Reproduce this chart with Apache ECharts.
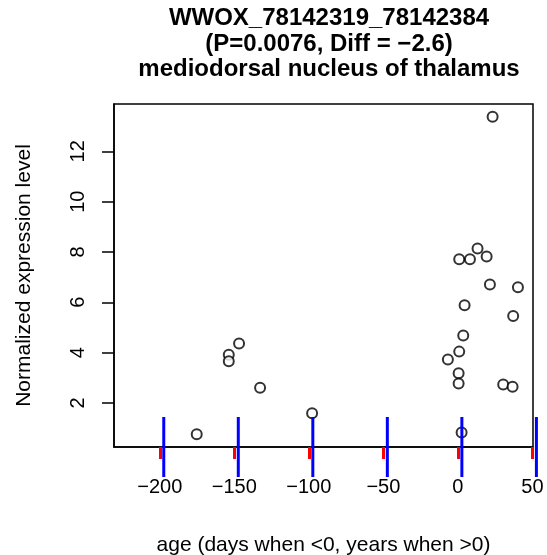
<!DOCTYPE html>
<html>
<head>
<meta charset="utf-8">
<script src="https://cdn.jsdelivr.net/npm/echarts@6/dist/echarts.min.js"></script>
<style>
  html, body { margin: 0; padding: 0; background: #fff; }
  #chart { width: 547px; height: 555px; }
</style>
</head>
<body>
<div id="chart"></div>
<script>
// ages (days when <0, years when >0)
const ages = [
  23.3, 0.9, 8.1, 13.2, 19.3, 21.5, 40.3, 4.5, 37.1, 3.6,
  -146.8, -153.7, -153.7, -132.7, -97.8, -175.2,
  0.9, -6.7, 0.5, 0.5, 30.4, 36.7, 2.5
];
// normalized expression level
const expr = [
  13.37, 7.71, 7.71, 8.14, 7.82, 6.71, 6.6, 5.88, 5.46, 4.68,
  4.36, 3.92, 3.66, 2.6, 1.59, 0.76,
  4.04, 3.73, 3.18, 2.77, 2.73, 2.64, 0.83
];
const xTicks = [-200, -150, -100, -50, 0, 50];
const yTicks = [2, 4, 6, 8, 10, 12];

const points = ages.map((a, i) => [a, expr[i]]);
const font = 'Liberation Sans, Arial, sans-serif';
const minus = v => String(v).replace('-', '\u2212');
const xMin = -230.7, xMax = 50.4;
const yMin = 0.25, yMax = 13.88;

const chart = echarts.init(document.getElementById('chart'));
chart.setOption({
  animation: false,
  backgroundColor: '#fff',
  title: {
    text: 'WWOX_78142319_78142384\n(P=0.0076, Diff = \u22122.6)\nmediodorsal nucleus of thalamus',
    left: 324,
    textAlign: 'center',
    top: 1,
    textStyle: {
      fontFamily: font, fontSize: 24, fontWeight: 'bold',
      color: '#000', lineHeight: 25.5
    }
  },
  grid: {
    left: 114, right: 14, top: 104, bottom: 108,
    outerBoundsMode: 'none',
    show: true, borderColor: '#000', borderWidth: 1.5,
    backgroundColor: 'transparent'
  },
  xAxis: {
    type: 'value',
    min: xMin, max: xMax,
    splitLine: { show: false },
    axisLine: { show: true, onZero: false, lineStyle: { color: '#000', width: 1.5 } },
    axisTick: {
      show: true, length: 12,
      customValues: xTicks,
      lineStyle: { color: 'red', width: 3 }
    },
    axisLabel: {
      customValues: xTicks,
      formatter: minus,
      margin: 30,
      fontFamily: font, fontSize: 20, color: '#000'
    },
    name: 'age (days when <0, years when >0)',
    nameLocation: 'middle',
    nameGap: 88,
    nameTextStyle: { fontFamily: font, fontSize: 21, color: '#000' }
  },
  yAxis: {
    type: 'value',
    min: yMin, max: yMax,
    splitLine: { show: false },
    axisLine: { show: true, onZero: false, lineStyle: { color: '#000', width: 1.5 } },
    axisTick: {
      show: true, length: 12,
      customValues: yTicks,
      lineStyle: { color: '#000', width: 1.5 }
    },
    axisLabel: {
      customValues: yTicks,
      rotate: 90,
      margin: 26,
      fontFamily: font, fontSize: 20, color: '#000'
    },
    name: 'Normalized expression level',
    nameLocation: 'middle',
    nameGap: 79,
    nameTextStyle: { fontFamily: font, fontSize: 21, color: '#000' }
  },
  series: [{
    type: 'scatter',
    data: points,
    symbol: 'emptyCircle',
    symbolSize: 10,
    itemStyle: { color: '#000', borderColor: '#000', borderWidth: 1.5 }
  }, {
    type: 'custom',
    silent: true,
    clip: false,
    z: 50,
    data: xTicks.map(v => [v, yMin]),
    renderItem: (params, api) => {
      const p = api.coord([api.value(0), api.value(1)]);
      return {
        type: 'line',
        shape: { x1: p[0] + 4, y1: p[1] - 30, x2: p[0] + 4, y2: p[1] + 30 },
        style: { stroke: 'blue', lineWidth: 3 }
      };
    }
  }]
});
</script>
</body>
</html>
